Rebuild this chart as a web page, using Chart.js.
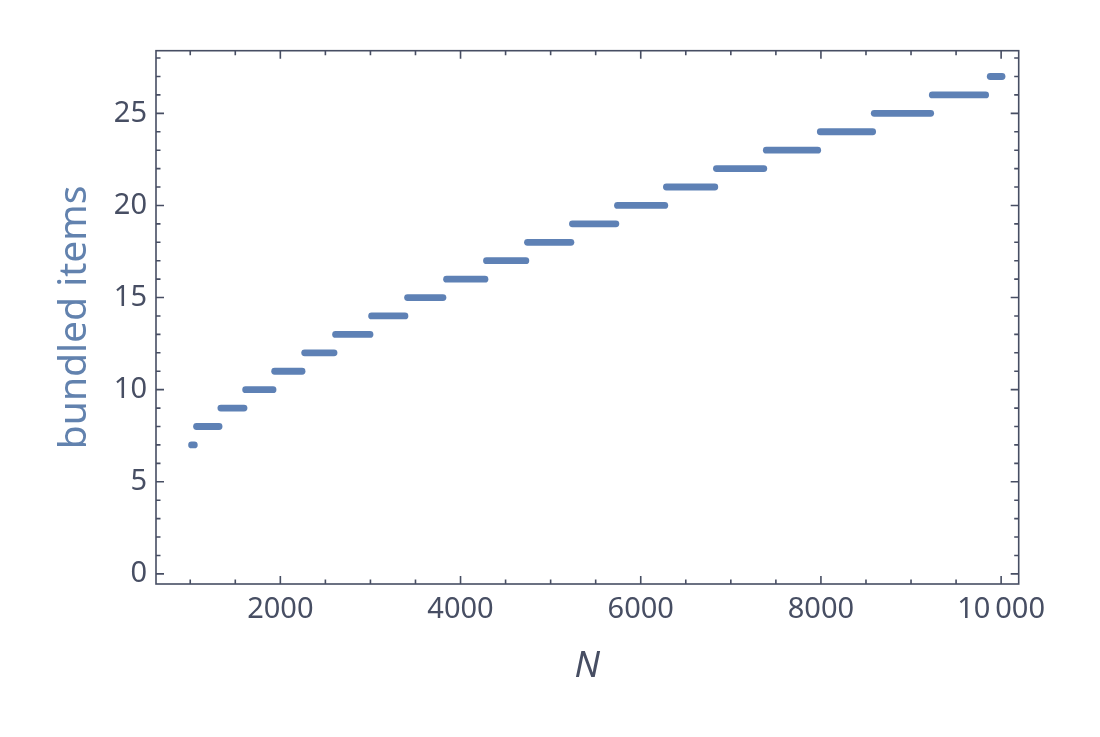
<!DOCTYPE html>
<html>
<head>
<meta charset="utf-8">
<script src="https://cdn.jsdelivr.net/npm/chart.js@4.4.1/dist/chart.umd.min.js"></script>
<style>
  html, body { margin: 0; padding: 0; background: #fff; }
  #wrap { width: 1100px; height: 737px; }
</style>
</head>
<body>
<div id="wrap"><canvas id="stepChart" width="1100" height="737"></canvas></div>
<script>
// levels of "bundled items" and the N range each level covers
const levels = [7, 8, 9, 10, 11, 12, 13, 14, 15, 16, 17, 18, 19, 20, 21, 22, 23, 24, 25, 26, 27];
const startN = [1015, 1070, 1340, 1615, 1937, 2270, 2613, 3013, 3412, 3845, 4288, 4743, 5242, 5742, 6285, 6840, 7394, 7993, 8592, 9236, 9879];
const endN   = [1045, 1320, 1597, 1919, 2241, 2596, 2995, 3383, 3805, 4271, 4725, 5225, 5724, 6267, 6822, 7366, 7964, 8574, 9218, 9828, 10010];

const xTicks = [2000, 4000, 6000, 8000, 10000];
const xTickLabels = ['2000', '4000', '6000', '8000', '10\u2009000'];
const yTicks = [0, 5, 10, 15, 20, 25];

const axisColor = '#474e63';
const lineColor = '#5e81b5';
const fontName = '"Noto Sans", "Open Sans", sans-serif';

// frame + inward ticks like the original plot
const frameTicks = {
    id: 'frameTicks',
    afterDatasetsDraw(chart) {
        const ctx = chart.ctx;
        const a = chart.chartArea;
        const xs = chart.scales.x, ys = chart.scales.y;
        ctx.save();
        ctx.strokeStyle = axisColor;
        ctx.lineWidth = 1.6;
        ctx.strokeRect(a.left, a.top, a.right - a.left, a.bottom - a.top);

        // x ticks every 500, major every 2000
        for (let v = 1000; v <= xs.max; v += 500) {
            let px = xs.getPixelForValue(v);
            if (px < a.left || px > a.right) continue;
            let len = (v % 2000 === 0) ? 8 : 4.5;
            ctx.beginPath();
            ctx.moveTo(px, a.bottom); ctx.lineTo(px, a.bottom - len);
            ctx.moveTo(px, a.top); ctx.lineTo(px, a.top + len);
            ctx.stroke();
        }
        // y ticks every 1, major every 5
        for (let v = 0; v <= ys.max; v += 1) {
            let py = ys.getPixelForValue(v);
            if (py < a.top || py > a.bottom) continue;
            let len = (v % 5 === 0) ? 8 : 4.5;
            ctx.beginPath();
            ctx.moveTo(a.left, py); ctx.lineTo(a.left + len, py);
            ctx.moveTo(a.right, py); ctx.lineTo(a.right - len, py);
            ctx.stroke();
        }
        ctx.restore();
    }
};

let datasets = levels.map(function(lv, i) {
    return {
        data: [{ x: startN[i], y: lv }, { x: endN[i], y: lv }],
        showLine: true,
        borderColor: lineColor,
        backgroundColor: lineColor,
        borderWidth: 6.8,
        borderCapStyle: 'round',
        pointRadius: 0
    };
});

new Chart(document.getElementById('stepChart'), {
    type: 'scatter',
    data: { datasets: datasets },
    options: {
        responsive: false,
        animation: false,
        devicePixelRatio: 1,
        layout: { padding: { top: 50.7, right: 81.3, left: 0, bottom: 0 } },
        plugins: {
            legend: { display: false },
            tooltip: { enabled: false }
        },
        scales: {
            x: {
                type: 'linear',
                min: 620,
                max: 10195,
                grid: { display: false, drawTicks: false },
                border: { display: false },
                afterBuildTicks: function(scale) {
                    scale.ticks = xTicks.map(v => ({ value: v }));
                },
                afterFit: function(scale) { scale.height = 153; },
                ticks: {
                    color: axisColor,
                    font: { family: fontName, size: 29 },
                    padding: 8,
                    maxRotation: 0,
                    callback: function(value) {
                        let i = xTicks.indexOf(value);
                        return i >= 0 ? xTickLabels[i] : '';
                    }
                },
                title: {
                    display: true,
                    text: 'N',
                    color: axisColor,
                    font: { family: fontName, size: 36, style: 'italic' },
                    padding: { top: 0, bottom: 49 }
                }
            },
            y: {
                type: 'linear',
                min: -0.55,
                max: 28.4,
                grid: { display: false, drawTicks: false },
                border: { display: false },
                afterBuildTicks: function(scale) {
                    scale.ticks = yTicks.map(v => ({ value: v }));
                },
                afterFit: function(scale) { scale.width = 156; },
                ticks: {
                    color: axisColor,
                    font: { family: fontName, size: 29 },
                    padding: 9
                },
                title: {
                    display: true,
                    text: 'bundled items',
                    color: '#6282ae',
                    font: { family: fontName, size: 39 },
                    padding: { top: 51, bottom: 0 }
                }
            }
        }
    },
    plugins: [frameTicks]
});
</script>
</body>
</html>
